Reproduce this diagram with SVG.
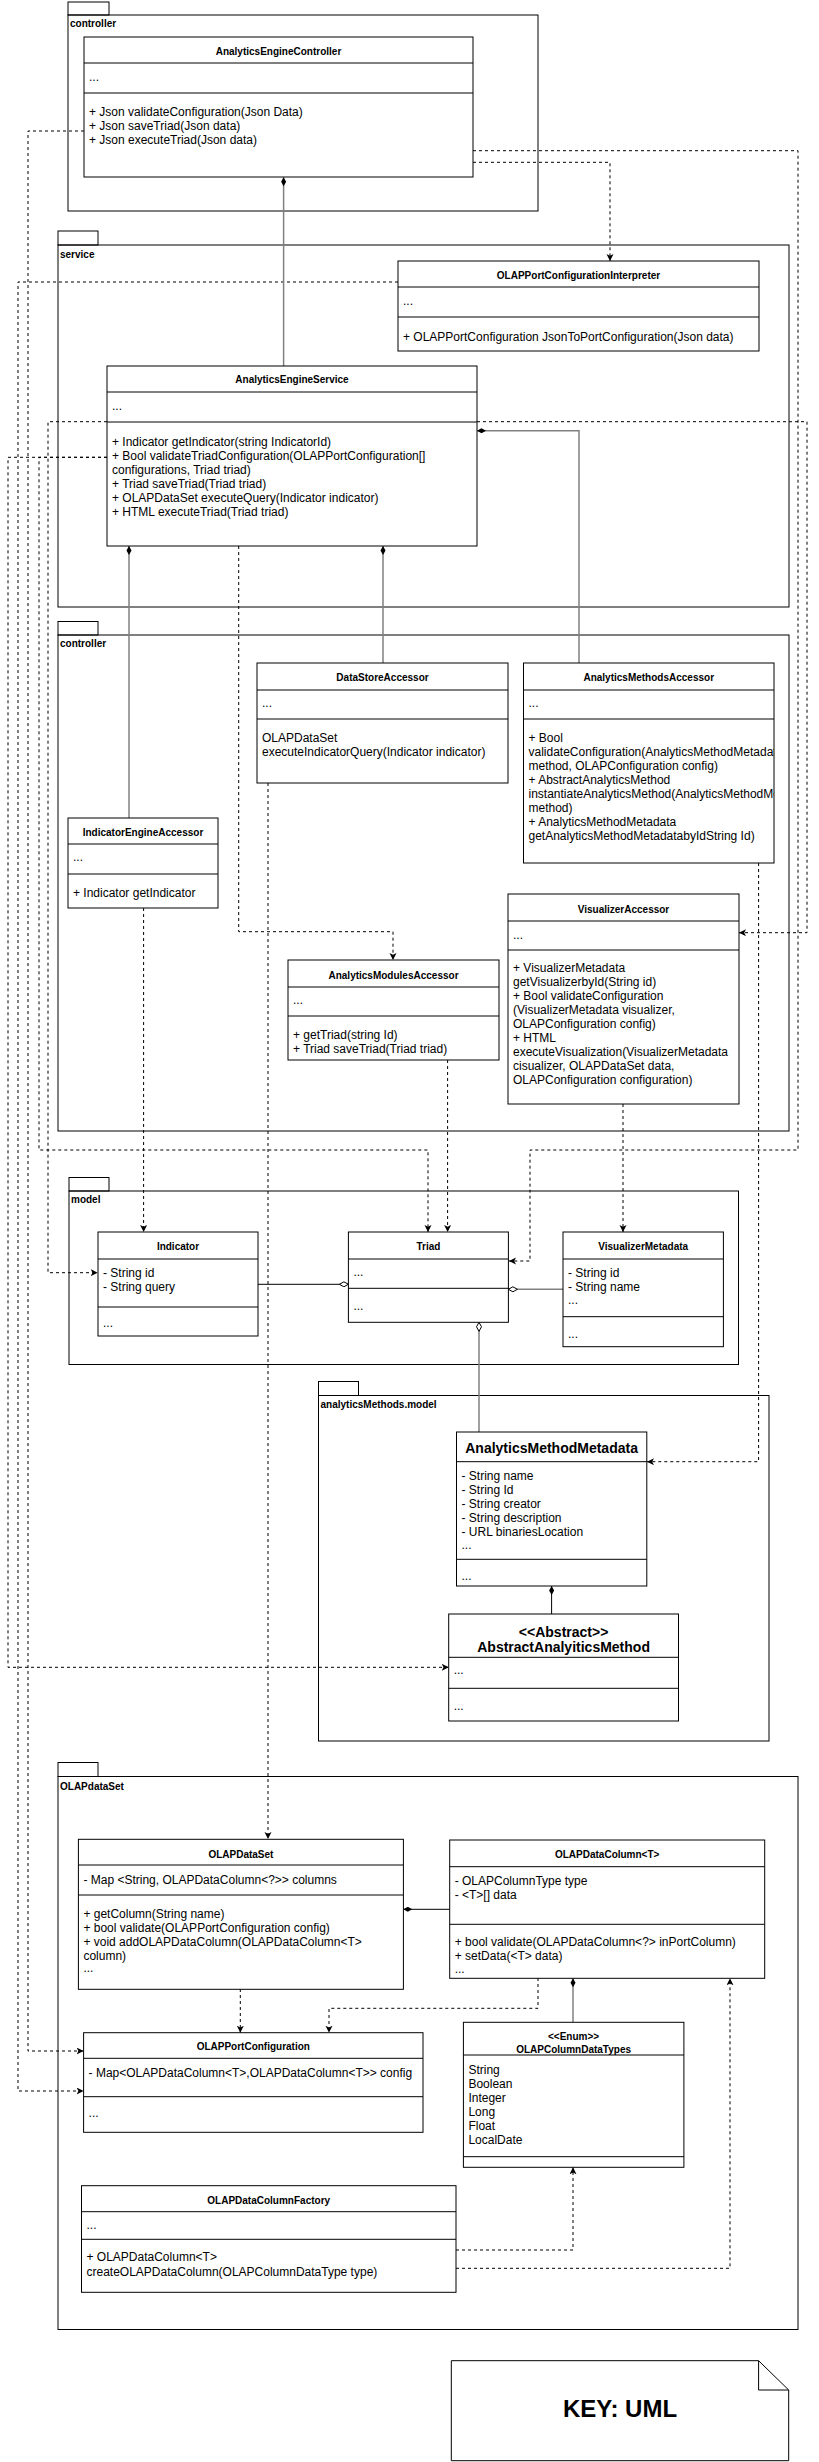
<svg xmlns="http://www.w3.org/2000/svg" width="819" height="2462" viewBox="0 0 819 2462">
<style>
text{font-family:"Liberation Sans",Arial,Helvetica,sans-serif;font-size:12px;fill:#000}
.t{font-size:10px;font-weight:bold;text-anchor:middle}
.tb{font-size:14px;font-weight:bold;text-anchor:middle}
.pl{font-size:10px;font-weight:bold}
.box{fill:#fff;stroke:#000;stroke-width:1}
.pkg{fill:none;stroke:#000;stroke-width:1}
.sep{stroke:#000;stroke-width:1}
.dep{fill:none;stroke:#000;stroke-width:1;stroke-dasharray:3 3;marker-end:url(#arr)}
.comp{fill:none;stroke:#808080;stroke-width:1.5;marker-start:url(#dia)}
.compk{fill:none;stroke:#000;stroke-width:1;marker-start:url(#dia)}
.agg{fill:none;stroke:#808080;stroke-width:1.5;marker-start:url(#odia)}
.aggk{fill:none;stroke:#000;stroke-width:1;marker-start:url(#odia)}
</style>
<defs>
<marker id="arr" markerUnits="userSpaceOnUse" markerWidth="8" markerHeight="8" refX="7" refY="3.5" orient="auto"><path d="M0,0 L7,3.5 L0,7 L1.8,3.5 Z" fill="#000"/></marker>
<marker id="dia" markerUnits="userSpaceOnUse" markerWidth="10" markerHeight="6" refX="0" refY="2.5" orient="auto"><path d="M0,2.5 L4.5,0 L9,2.5 L4.5,5 Z" fill="#000"/></marker>
<marker id="odia" markerUnits="userSpaceOnUse" markerWidth="11" markerHeight="7" refX="0.5" refY="3" orient="auto"><path d="M0.5,3 L5,0.5 L9.5,3 L5,5.5 Z" fill="#fff" stroke="#000" stroke-width="1"/></marker>
<clipPath id="cAMA"><rect x="523.5" y="663" width="250.5" height="200"/></clipPath>
<clipPath id="cVA"><rect x="508" y="894" width="231" height="210"/></clipPath>
</defs>

<g id="packages">
<g id="pkg-controller">
<rect class="pkg" x="68" y="2" width="41" height="13"/>
<rect class="pkg" x="68" y="15" width="470" height="196"/>
<text class="pl" x="70" y="27">controller</text>
</g>
<g id="pkg-service">
<rect class="pkg" x="58" y="231" width="40" height="14"/>
<rect class="pkg" x="58" y="245" width="731" height="362"/>
<text class="pl" x="60" y="257.5">service</text>
</g>
<g id="pkg-controller2">
<rect class="pkg" x="58" y="621.5" width="40" height="13.5"/>
<rect class="pkg" x="58" y="635" width="731" height="496"/>
<text class="pl" x="60" y="647">controller</text>
</g>
<g id="pkg-model">
<rect class="pkg" x="69" y="1177.5" width="40" height="13.5"/>
<rect class="pkg" x="69" y="1191" width="669.5" height="173.5"/>
<text class="pl" x="71" y="1203">model</text>
</g>
<g id="pkg-analyticsMethods-model">
<rect class="pkg" x="318.5" y="1381.5" width="40" height="14"/>
<rect class="pkg" x="318.5" y="1395.5" width="450.5" height="345.5"/>
<text class="pl" x="320.5" y="1407.5">analyticsMethods.model</text>
</g>
<g id="pkg-OLAPdataSet">
<rect class="pkg" x="58" y="1762.5" width="40" height="14"/>
<rect class="pkg" x="58" y="1776.5" width="740" height="553"/>
<text class="pl" x="60" y="1790">OLAPdataSet</text>
</g>
</g>

<g id="connectors">
<path class="dep" d="M84,131 H28 V2051 H83.6"/>
<path class="dep" d="M473,150.7 H798 V1150 H530 V1261 H509"/>
<path class="dep" d="M473,162.3 H610 V261"/>
<path class="dep" d="M398,282 H18 V2091 H83.6"/>
<path class="dep" d="M107,421.7 H48 V1272.7 H97.7"/>
<path class="dep" d="M477,421.7 H807 V932.7 H739"/>
<path class="dep" d="M107,457.3 H8 V1667.3 H448.7"/>
<path class="dep" d="M107,457.3 H39 V1150 H428 V1232"/>
<path class="dep" d="M238.7,546 V931.7 H393 V960"/>
<path class="dep" d="M268,783 V1839"/>
<path class="dep" d="M143.6,908 V1232"/>
<path class="dep" d="M758.6,863 V1461.7 H647"/>
<path class="dep" d="M623,1104 V1232"/>
<path class="dep" d="M447.6,1060 V1232"/>
<path class="dep" d="M240.3,1989 V2032.7"/>
<path class="dep" d="M538,1978 V2008.3 H329 V2032.7"/>
<path class="dep" d="M456,2250 H573 V2167.3"/>
<path class="dep" d="M456,2268.3 H730 V1978.3"/>
<path class="comp" d="M283.6,177.3 V366"/>
<path class="comp" d="M129,546 V818"/>
<path class="comp" d="M383,546 V663"/>
<path class="comp" d="M477,430.7 H579 V663"/>
<path class="compk" d="M551.6,1586 V1614"/>
<path class="compk" d="M403.3,1909.3 H449.7"/>
<path class="comp" d="M573,1978.3 V2022.3"/>
<path class="aggk" d="M348.4,1284.3 H257.5"/>
<path class="agg" d="M508.4,1289.3 H563"/>
<path class="agg" d="M479,1322.3 V1432"/>
</g>

<g id="AnalyticsEngineController">
<rect class="box" x="84" y="37" width="389" height="140"/>
<line class="sep" x1="84" y1="63" x2="473" y2="63"/>
<line class="sep" x1="84" y1="93" x2="473" y2="93"/>
<text class="t" x="278.5" y="54.5">AnalyticsEngineController</text>
<text x="89" y="81">...</text>
<text x="89" y="115.5">+ Json validateConfiguration(Json Data)</text>
<text x="89" y="129.5">+ Json saveTriad(Json data)</text>
<text x="89" y="143.5">+ Json executeTriad(Json data)</text>
</g>

<g id="OLAPPortConfigurationInterpreter">
<rect class="box" x="398" y="261" width="361" height="90"/>
<line class="sep" x1="398" y1="287" x2="759" y2="287"/>
<line class="sep" x1="398" y1="317" x2="759" y2="317"/>
<text class="t" x="578.5" y="279">OLAPPortConfigurationInterpreter</text>
<text x="403" y="305">...</text>
<text x="403" y="341">+ OLAPPortConfiguration JsonToPortConfiguration(Json data)</text>
</g>

<g id="AnalyticsEngineService">
<rect class="box" x="107" y="366" width="370" height="180"/>
<line class="sep" x1="107" y1="392" x2="477" y2="392"/>
<line class="sep" x1="107" y1="422" x2="477" y2="422"/>
<text class="t" x="292" y="382.5">AnalyticsEngineService</text>
<text x="112" y="410">...</text>
<text x="112" y="445.5">+ Indicator getIndicator(string IndicatorId)</text>
<text x="112" y="459.5">+ Bool validateTriadConfiguration(OLAPPortConfiguration[]</text>
<text x="112" y="473.5">configurations, Triad triad)</text>
<text x="112" y="487.5">+ Triad saveTriad(Triad triad)</text>
<text x="112" y="501.5">+ OLAPDataSet executeQuery(Indicator indicator)</text>
<text x="112" y="515.5">+ HTML executeTriad(Triad triad)</text>
</g>

<g id="DataStoreAccessor">
<rect class="box" x="257" y="663" width="251" height="120"/>
<line class="sep" x1="257" y1="690" x2="508" y2="690"/>
<line class="sep" x1="257" y1="719" x2="508" y2="719"/>
<text class="t" x="382.5" y="681">DataStoreAccessor</text>
<text x="262" y="707">...</text>
<text x="262" y="742">OLAPDataSet</text>
<text x="262" y="756">executeIndicatorQuery(Indicator indicator)</text>
</g>

<g id="AnalyticsMethodsAccessor">
<rect class="box" x="523.5" y="663" width="250.5" height="200"/>
<line class="sep" x1="523.5" y1="690" x2="774" y2="690"/>
<line class="sep" x1="523.5" y1="719" x2="774" y2="719"/>
<text class="t" x="648.75" y="681">AnalyticsMethodsAccessor</text>
<text x="528.5" y="707">...</text>
<g clip-path="url(#cAMA)">
<text x="528.5" y="742">+ Bool</text>
<text x="528.5" y="756">validateConfiguration(AnalyticsMethodMetadata</text>
<text x="528.5" y="770">method, OLAPConfiguration config)</text>
<text x="528.5" y="784">+ AbstractAnalyticsMethod</text>
<text x="528.5" y="798">instantiateAnalyticsMethod(AnalyticsMethodMetadata</text>
<text x="528.5" y="812">method)</text>
<text x="528.5" y="826">+ AnalyticsMethodMetadata</text>
<text x="528.5" y="840">getAnalyticsMethodMetadatabyIdString Id)</text>
</g>
</g>

<g id="IndicatorEngineAccessor">
<rect class="box" x="68" y="818" width="150" height="90"/>
<line class="sep" x1="68" y1="844" x2="218" y2="844"/>
<line class="sep" x1="68" y1="874" x2="218" y2="874"/>
<text class="t" x="143" y="836">IndicatorEngineAccessor</text>
<text x="73" y="861">...</text>
<text x="73" y="897">+ Indicator getIndicator</text>
</g>

<g id="VisualizerAccessor">
<rect class="box" x="508" y="894" width="231" height="210"/>
<line class="sep" x1="508" y1="921" x2="739" y2="921"/>
<line class="sep" x1="508" y1="950" x2="739" y2="950"/>
<text class="t" x="623.5" y="912.5">VisualizerAccessor</text>
<text x="513" y="939">...</text>
<g clip-path="url(#cVA)">
<text x="513" y="972">+ VisualizerMetadata</text>
<text x="513" y="986">getVisualizerbyId(String id)</text>
<text x="513" y="1000">+ Bool validateConfiguration</text>
<text x="513" y="1014">(VisualizerMetadata visualizer,</text>
<text x="513" y="1028">OLAPConfiguration config)</text>
<text x="513" y="1042">+ HTML</text>
<text x="513" y="1056">executeVisualization(VisualizerMetadata</text>
<text x="513" y="1070">cisualizer, OLAPDataSet data,</text>
<text x="513" y="1084">OLAPConfiguration configuration)</text>
</g>
</g>

<g id="AnalyticsModulesAccessor">
<rect class="box" x="288" y="960" width="211" height="100"/>
<line class="sep" x1="288" y1="987" x2="499" y2="987"/>
<line class="sep" x1="288" y1="1016" x2="499" y2="1016"/>
<text class="t" x="393.5" y="978.5">AnalyticsModulesAccessor</text>
<text x="293" y="1004">...</text>
<text x="293" y="1039">+ getTriad(string Id)</text>
<text x="293" y="1053">+ Triad saveTriad(Triad triad)</text>
</g>

<g id="Indicator">
<rect class="box" x="98" y="1232" width="160" height="104"/>
<line class="sep" x1="98" y1="1259" x2="258" y2="1259"/>
<line class="sep" x1="98" y1="1307" x2="258" y2="1307"/>
<text class="t" x="178" y="1249.5">Indicator</text>
<text x="103" y="1276.5">- String id</text>
<text x="103" y="1290.5">- String query</text>
<text x="103" y="1327">...</text>
</g>

<g id="Triad">
<rect class="box" x="348.4" y="1232" width="160" height="90.3"/>
<line class="sep" x1="348.4" y1="1259" x2="508.4" y2="1259"/>
<line class="sep" x1="348.4" y1="1288.3" x2="508.4" y2="1288.3"/>
<text class="t" x="428.4" y="1249.5">Triad</text>
<text x="353.4" y="1276">...</text>
<text x="353.4" y="1310">...</text>
</g>

<g id="VisualizerMetadata">
<rect class="box" x="563" y="1232" width="160.4" height="114.7"/>
<line class="sep" x1="563" y1="1259" x2="723.4" y2="1259"/>
<line class="sep" x1="563" y1="1316.7" x2="723.4" y2="1316.7"/>
<text class="t" x="643.2" y="1249.5">VisualizerMetadata</text>
<text x="568" y="1276.5">- String id</text>
<text x="568" y="1290.5">- String name</text>
<text x="568" y="1303.5">...</text>
<text x="568" y="1337.5">...</text>
</g>

<g id="AnalyticsMethodMetadata">
<rect class="box" x="456.5" y="1432" width="190.3" height="154"/>
<line class="sep" x1="456.5" y1="1461.7" x2="646.8" y2="1461.7"/>
<line class="sep" x1="456.5" y1="1559.3" x2="646.8" y2="1559.3"/>
<text class="tb" x="551.6" y="1453">AnalyticsMethodMetadata</text>
<text x="461.5" y="1480">- String name</text>
<text x="461.5" y="1494">- String Id</text>
<text x="461.5" y="1508">- String creator</text>
<text x="461.5" y="1522">- String description</text>
<text x="461.5" y="1536">- URL binariesLocation</text>
<text x="461.5" y="1549">...</text>
<text x="461.5" y="1580">...</text>
</g>

<g id="AbstractAnalyiticsMethod">
<rect class="box" x="448.7" y="1614" width="229.8" height="107"/>
<line class="sep" x1="448.7" y1="1657.3" x2="678.5" y2="1657.3"/>
<line class="sep" x1="448.7" y1="1688.3" x2="678.5" y2="1688.3"/>
<text class="tb" x="563.6" y="1636.5">&lt;&lt;Abstract&gt;&gt;</text>
<text class="tb" x="563.6" y="1651.5">AbstractAnalyiticsMethod</text>
<text x="453.7" y="1674">...</text>
<text x="453.7" y="1710">...</text>
</g>

<g id="OLAPDataSet">
<rect class="box" x="78.4" y="1839.3" width="325" height="150"/>
<line class="sep" x1="78.4" y1="1865" x2="403.4" y2="1865"/>
<line class="sep" x1="78.4" y1="1895" x2="403.4" y2="1895"/>
<text class="t" x="240.9" y="1857.5">OLAPDataSet</text>
<text x="83.4" y="1884">- Map &lt;String, OLAPDataColumn&lt;?&gt;&gt; columns</text>
<text x="83.4" y="1918">+ getColumn(String name)</text>
<text x="83.4" y="1932">+ bool validate(OLAPPortConfiguration config)</text>
<text x="83.4" y="1946">+ void addOLAPDataColumn(OLAPDataColumn&lt;T&gt;</text>
<text x="83.4" y="1960">column)</text>
<text x="83.4" y="1972">...</text>
</g>

<g id="OLAPDataColumn">
<rect class="box" x="449.7" y="1840" width="315" height="138.3"/>
<line class="sep" x1="449.7" y1="1866.7" x2="764.7" y2="1866.7"/>
<line class="sep" x1="449.7" y1="1924.3" x2="764.7" y2="1924.3"/>
<text class="t" x="607.2" y="1857.5">OLAPDataColumn&lt;T&gt;</text>
<text x="454.7" y="1885">- OLAPColumnType type</text>
<text x="454.7" y="1899">- &lt;T&gt;[] data</text>
<text x="454.7" y="1946">+ bool validate(OLAPDataColumn&lt;?&gt; inPortColumn)</text>
<text x="454.7" y="1960">+ setData(&lt;T&gt; data)</text>
<text x="454.7" y="1972.5">...</text>
</g>

<g id="OLAPPortConfiguration">
<rect class="box" x="83.6" y="2032.7" width="339.4" height="99.6"/>
<line class="sep" x1="83.6" y1="2058.3" x2="423" y2="2058.3"/>
<line class="sep" x1="83.6" y1="2096.7" x2="423" y2="2096.7"/>
<text class="t" x="253.3" y="2049.5">OLAPPortConfiguration</text>
<text x="88.6" y="2076.7">- Map&lt;OLAPDataColumn&lt;T&gt;,OLAPDataColumn&lt;T&gt;&gt; config</text>
<text x="88.6" y="2117">...</text>
</g>

<g id="OLAPColumnDataTypes">
<rect class="box" x="463.4" y="2022.3" width="220.5" height="145"/>
<line class="sep" x1="463.4" y1="2055" x2="683.9" y2="2055"/>
<line class="sep" x1="463.4" y1="2156.7" x2="683.9" y2="2156.7"/>
<text class="t" x="573.6" y="2040">&lt;&lt;Enum&gt;&gt;</text>
<text class="t" x="573.6" y="2052.5">OLAPColumnDataTypes</text>
<text x="468.4" y="2074">String</text>
<text x="468.4" y="2088">Boolean</text>
<text x="468.4" y="2102">Integer</text>
<text x="468.4" y="2116">Long</text>
<text x="468.4" y="2130">Float</text>
<text x="468.4" y="2144">LocalDate</text>
</g>

<g id="OLAPDataColumnFactory">
<rect class="box" x="81.5" y="2185.7" width="374.5" height="106.6"/>
<line class="sep" x1="81.5" y1="2211.7" x2="456" y2="2211.7"/>
<line class="sep" x1="81.5" y1="2239.3" x2="456" y2="2239.3"/>
<text class="t" x="268.7" y="2203.5">OLAPDataColumnFactory</text>
<text x="86.5" y="2229">...</text>
<text x="86.5" y="2260.5">+ OLAPDataColumn&lt;T&gt;</text>
<text x="86.5" y="2275.5">createOLAPDataColumn(OLAPColumnDataType type)</text>
</g>

<g id="key-note">
<path d="M451.3,2360.7 H758.6 L788.7,2390 V2460.7 H451.3 Z" fill="#fff" stroke="#000" stroke-width="1"/>
<path d="M758.6,2360.7 V2390 H788.7" fill="none" stroke="#000" stroke-width="1"/>
<text x="620" y="2417" style="font-size:24px;font-weight:bold;text-anchor:middle">KEY: UML</text>
</g>
</svg>
